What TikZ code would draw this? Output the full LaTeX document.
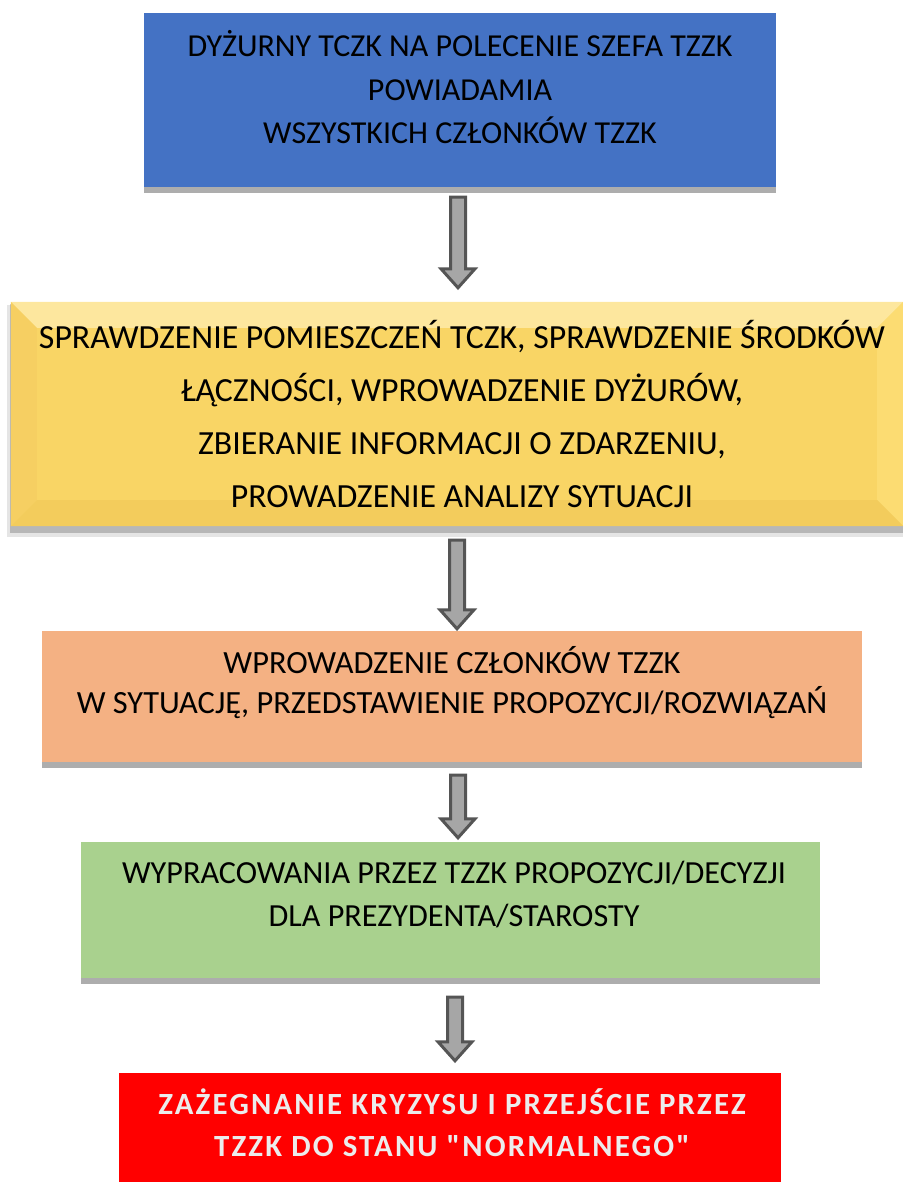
\documentclass[tikz,border=0pt]{standalone}
\usepackage{fontspec}
\setmainfont{Carlito}
\newfontfamily\endfont[LetterSpace=7]{Carlito}
\usetikzlibrary{calc}

\newlength{\du}
\setlength{\du}{1pt}

\definecolor{dutyblue}{RGB}{68,114,196}
\definecolor{checkgold}{RGB}{249,213,101}
\definecolor{checktop}{RGB}{253,231,158}
\definecolor{checkleft}{RGB}{246,207,98}
\definecolor{checkright}{RGB}{252,220,114}
\definecolor{checkbottom}{RGB}{243,204,92}
\definecolor{briefsalmon}{RGB}{244,177,131}
\definecolor{decidegreen}{RGB}{169,209,142}
\definecolor{endred}{RGB}{255,0,0}
\definecolor{stripgray}{RGB}{173,173,173}
\definecolor{arrowedge}{RGB}{85,85,85}
\definecolor{arrowfill}{RGB}{166,166,166}
\definecolor{endtext}{RGB}{236,236,236}

\tikzset{
  stepbox/.style={rectangle, inner sep=0pt, draw=none},
  steptext/.style={align=center, inner sep=0pt, text=black,
    font=\fontsize{32}{43.5}\selectfont},
  flowarrow/.style={draw=arrowedge, fill=arrowfill, line width=3\du,
    line join=miter,
    to path={let \p1=(\tikztostart), \p2=(\tikztotarget) in
      (\x1-7.5pt,\y1) -- (\x1+7.5pt,\y1) -- (\x1+7.5pt,\y2+19pt)
      -- (\x1+17pt,\y2+19pt) -- (\x1,\y2) -- (\x1-17pt,\y2+19pt)
      -- (\x1-7.5pt,\y2+19pt) -- cycle}},
}

\begin{document}
\begin{tikzpicture}
\useasboundingbox (0\du,0\du) rectangle (902\du,-1182\du);
% blue box
\node[stepbox, fill=dutyblue, minimum width=632\du, minimum height=174\du] (duty) at (460\du,-100\du) {};
\fill[stripgray] (duty.south west) rectangle ([yshift=-6\du]duty.south east);
\node[steptext] (dutytext) at (460\du,-87.5\du) {DYŻURNY TCZK NA POLECENIE SZEFA TZZK\\POWIADAMIA\\WSZYSTKICH CZŁONKÓW TZZK};
% yellow box, bevelled
\node[stepbox, minimum width=892\du, minimum height=224\du] (check) at (457\du,-414\du) {};
\fill[black, opacity=0.10] ($(check.north west)+(-4\du,-3\du)$) rectangle ($(check.south east)+(2\du,-11\du)$);
\fill[black, opacity=0.20] ($(check.north west)+(-1\du,-2\du)$) rectangle ($(check.south east)+(0\du,-7\du)$);
\fill[checkgold] (check.north west) rectangle (check.south east);
\fill[checktop] (check.north west) -- (check.north east) -- ($(check.north east)+(-26\du,-26\du)$) -- ($(check.north west)+(26\du,-26\du)$) -- cycle;
\fill[checkleft] (check.north west) -- ($(check.north west)+(26\du,-26\du)$) -- ($(check.south west)+(26\du,26\du)$) -- (check.south west) -- cycle;
\fill[checkright] (check.north east) -- ($(check.north east)+(-26\du,-26\du)$) -- ($(check.south east)+(-26\du,26\du)$) -- (check.south east) -- cycle;
\fill[checkbottom] (check.south west) -- ($(check.south west)+(26\du,26\du)$) -- ($(check.south east)+(-26\du,26\du)$) -- (check.south east) -- cycle;
\node[steptext, font=\fontsize{33.8}{53}\selectfont] (checktext) at (462\du,-414\du) {SPRAWDZENIE POMIESZCZEŃ TCZK, SPRAWDZENIE ŚRODKÓW\\ŁĄCZNOŚCI, WPROWADZENIE DYŻURÓW,\\ZBIERANIE INFORMACJI O ZDARZENIU,\\PROWADZENIE ANALIZY SYTUACJI};
% salmon box
\node[stepbox, fill=briefsalmon, minimum width=820\du, minimum height=131\du] (brief) at (452\du,-696.5\du) {};
\fill[stripgray] (brief.south west) rectangle ([yshift=-6\du]brief.south east);
\node[steptext, font=\fontsize{32.4}{40}\selectfont] (brieftext) at (452\du,-682.5\du) {WPROWADZENIE CZŁONKÓW TZZK\\W SYTUACJĘ, PRZEDSTAWIENIE PROPOZYCJI/ROZWIĄZAŃ};
% green box
\node[stepbox, fill=decidegreen, minimum width=739\du, minimum height=136\du] (decide) at (450.5\du,-910\du) {};
\fill[stripgray] (decide.south west) rectangle ([yshift=-6\du]decide.south east);
\node[steptext, font=\fontsize{32.2}{43}\selectfont] (decidetext) at (454\du,-894\du) {WYPRACOWANIA PRZEZ TZZK PROPOZYCJI/DECYZJI\\DLA PREZYDENTA/STAROSTY};
% red box
\node[stepbox, fill=endred, minimum width=662\du, minimum height=112\du] (finish) at (450\du,-1129\du) {};
\node[steptext, text=endtext, font=\endfont\bfseries\fontsize{30.8}{42}\selectfont] (finishtext) at (452\du,-1123\du) {ZAŻEGNANIE KRYZYSU I PRZEJŚCIE PRZEZ\\TZZK DO STANU "NORMALNEGO"};
% arrows
\draw[flowarrow] ($(duty.south)+(-2\du,-10\du)$) to ($(check.north)+(0\du,14\du)$);
\draw[flowarrow] ($(check.south)+(0\du,-14\du)$) to ($(brief.north)+(0\du,2\du)$);
\draw[flowarrow] ($(brief.south)+(6\du,-13\du)$) to ($(decide.north)+(0\du,4\du)$);
\draw[flowarrow] ($(decide.south)+(4.5\du,-19\du)$) to ($(finish.north)+(0\du,12\du)$);
\end{tikzpicture}
\end{document}
